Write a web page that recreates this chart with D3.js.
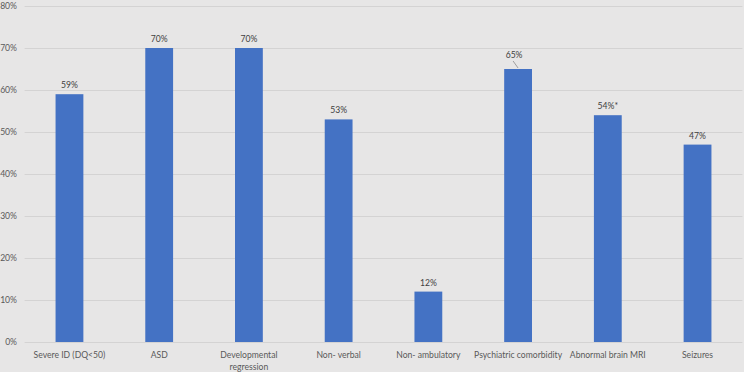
<!DOCTYPE html>
<html>
<head>
<meta charset="utf-8">
<script src="https://cdn.jsdelivr.net/npm/d3@7"></script>
<style>
  html, body { margin: 0; padding: 0; background: #e7e6e6; }
  svg { display: block; }
  text { font-family: Lato, "Open Sans", sans-serif; }
</style>
</head>
<body>
<svg id="chart" width="744" height="372"></svg>
<script>
const categories = [
  ["Severe ID (DQ<50)"],
  ["ASD"],
  ["Developmental", "regression"],
  ["Non- verbal"],
  ["Non- ambulatory"],
  ["Psychiatric comorbidity"],
  ["Abnormal brain MRI"],
  ["Seizures"]
];
const values = [59, 70, 70, 53, 12, 65, 54, 47];
const valueLabels = ["59%", "70%", "70%", "53%", "12%", "65%", "54%*", "47%"];
const yTicks = [0, 10, 20, 30, 40, 50, 60, 70, 80];

const W = 744, H = 372;
const margin = { left: 24.6, right: 1.6, top: 6, bottom: 30 };
const FS = 8.6;
const svg = d3.select("#chart");
svg.append("rect").attr("width", W).attr("height", H).attr("fill", "#e7e6e6");

const x = d3.scaleBand()
  .domain(d3.range(categories.length))
  .range([margin.left, W - margin.right])
  .paddingInner(0.69)
  .paddingOuter(0.345);

const y = d3.scaleLinear().domain([0, 80]).range([342, 6]);

// gridlines
svg.append("g").selectAll("line").data(yTicks).join("line")
  .attr("x1", margin.left).attr("x2", W - margin.right)
  .attr("y1", d => y(d) + 0.5).attr("y2", d => y(d) + 0.5)
  .attr("stroke", "#d4d3d3").attr("stroke-width", 1);

// y labels
svg.append("g").selectAll("text").data(yTicks).join("text")
  .attr("x", 17).attr("y", d => y(d)).attr("dy", "0.35em")
  .attr("text-anchor", "end").attr("font-size", FS).attr("fill", "#595959")
  .text(d => d + "%");

// bars
svg.append("g").selectAll("rect").data(values).join("rect")
  .attr("x", (d, i) => x(i)).attr("width", x.bandwidth())
  .attr("y", d => y(d)).attr("height", d => y(0) - y(d))
  .attr("fill", "#4472c4");

// data labels
const psychIdx = 5;
const lbl = svg.append("g");
values.forEach((v, i) => {
  const cx = x(i) + x.bandwidth() / 2;
  const lift = i === psychIdx ? 14 : 9;
  const lx = i === psychIdx ? cx - 4 : cx;
  lbl.append("text")
    .attr("x", lx).attr("y", y(v) - lift).attr("dy", "0.35em")
    .attr("text-anchor", "middle").attr("font-size", FS).attr("fill", "#404040")
    .text(valueLabels[i]);
  if (i === psychIdx) {
    lbl.append("line")
      .attr("x1", lx - 1).attr("y1", y(v) - 8)
      .attr("x2", cx).attr("y2", y(v) - 1)
      .attr("stroke", "#8c8c8c").attr("stroke-width", 0.8);
  }
});

// x labels
const xl = svg.append("g");
categories.forEach((lines, i) => {
  const cx = x(i) + x.bandwidth() / 2;
  const t = xl.append("text").attr("text-anchor", "middle")
    .attr("font-size", FS).attr("fill", "#595959");
  lines.forEach((s, k) => {
    t.append("tspan").attr("x", cx).attr("y", 355 + k * 12).attr("dy", "0.35em").text(s);
  });
});
</script>
</body>
</html>
